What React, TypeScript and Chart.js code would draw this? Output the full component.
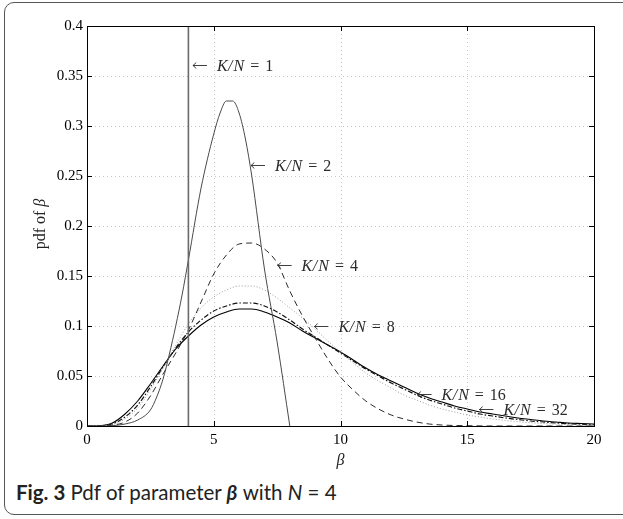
import React, { useEffect, useRef } from "react";
import { Chart, registerables } from "chart.js";
Chart.register(...registerables);

// ---- data ----
const betaGrid = [0, 0.5, 1, 1.5, 2, 2.5, 3, 3.5, 4, 4.5, 5, 5.5, 6, 6.5, 7, 7.5, 8, 8.5, 9, 9.5, 10, 10.5, 11, 11.5, 12, 12.5, 13, 13.5, 14, 14.5, 15, 15.5, 16, 16.5, 17, 17.5, 18, 18.5, 19, 19.5, 20];

const pdfKN32 = [0, 0.0003, 0.003, 0.012, 0.025, 0.042, 0.06, 0.077, 0.09, 0.101, 0.109, 0.114, 0.117, 0.117, 0.114, 0.109, 0.103, 0.095, 0.088, 0.081, 0.074, 0.066, 0.058, 0.051, 0.045, 0.039, 0.033, 0.028, 0.024, 0.02, 0.017, 0.014, 0.012, 0.01, 0.008, 0.0065, 0.005, 0.004, 0.003, 0.0025, 0.002];

const pdfKN16 = [0, 0.0002, 0.002, 0.009, 0.021, 0.039, 0.059, 0.078, 0.094, 0.106, 0.115, 0.12, 0.123, 0.123, 0.12, 0.114, 0.106, 0.097, 0.089, 0.081, 0.073, 0.065, 0.057, 0.05, 0.043, 0.037, 0.031, 0.026, 0.022, 0.018, 0.015, 0.012, 0.01, 0.008, 0.0065, 0.005, 0.004, 0.003, 0.0023, 0.0017, 0.0012];

const pdfKN8 = [0, 0.0001, 0.0015, 0.007, 0.018, 0.036, 0.058, 0.081, 0.102, 0.118, 0.129, 0.136, 0.14, 0.14, 0.136, 0.128, 0.118, 0.108, 0.097, 0.085, 0.074, 0.063, 0.053, 0.045, 0.038, 0.031, 0.026, 0.021, 0.017, 0.014, 0.011, 0.009, 0.007, 0.0055, 0.0043, 0.0033, 0.0025, 0.0019, 0.0014, 0.001, 0.0008];

const pdfKN4 = [0, 0, 0.0008, 0.004, 0.013, 0.03, 0.052, 0.073, 0.096, 0.124, 0.152, 0.171, 0.182, 0.183, 0.177, 0.163, 0.135, 0.11, 0.088, 0.067, 0.049, 0.036, 0.025, 0.017, 0.011, 0.007, 0.004, 0.002, 0.001, 0.0005, 0.0003, 0.0001, 0, 0, 0, 0, 0, 0, 0, 0, 0];

const betaKN2 = [0, 0.5, 1, 1.5, 2, 2.5, 2.75, 3, 3.25, 3.5, 3.75, 4, 4.5, 5, 5.25, 5.5, 5.75, 6, 6.25, 6.5, 7, 7.5, 8];
const pdfKN2 = [0, 0, 0.0003, 0.002, 0.006, 0.016, 0.029, 0.047, 0.072, 0.1, 0.131, 0.166, 0.238, 0.292, 0.313, 0.325, 0.325, 0.313, 0.287, 0.25, 0.157, 0.084, 0];

const betaKN1 = [4, 4];
const pdfKN1 = [0, 0.4];

const xTicks = [0, 5, 10, 15, 20];
const xTickLabels = ["0", "5", "10", "15", "20"];
const yTicks = [0, 0.05, 0.1, 0.15, 0.2, 0.25, 0.3, 0.35, 0.4];
const yTickLabels = ["0", "0.05", "0.1", "0.15", "0.2", "0.25", "0.3", "0.35", "0.4"];

const annotKN = ["1", "2", "4", "8", "16", "32"];
const annotBeta = [4.14, 6.43, 7.48, 8.93, 13.0, 15.44];
const annotPdf = [0.361, 0.261, 0.161, 0.1, 0.032, 0.017];

const SERIF = "'Liberation Serif', 'DejaVu Serif', serif";

function pts(xs: number[], ys: number[]) {
  return xs.map((x, i) => ({ x, y: ys[i] }));
}

const decorPlugin = {
  id: "decor",
  beforeDatasetsDraw(chart: any) {
    const { ctx, chartArea: a, scales } = chart;
    const xs = scales.x, ys = scales.y;
    ctx.save();
    ctx.strokeStyle = "#c4c4c4";
    ctx.lineWidth = 1;
    ctx.setLineDash([1, 3]);
    xTicks.slice(1, -1).forEach((v) => {
      const px = Math.round(xs.getPixelForValue(v)) + 0.5;
      ctx.beginPath();
      ctx.moveTo(px, a.top);
      ctx.lineTo(px, a.bottom);
      ctx.stroke();
    });
    yTicks.slice(1, -1).forEach((v) => {
      const py = Math.round(ys.getPixelForValue(v)) + 0.5;
      ctx.beginPath();
      ctx.moveTo(a.left, py);
      ctx.lineTo(a.right, py);
      ctx.stroke();
    });
    ctx.restore();
  },
  afterDatasetsDraw(chart: any) {
    const { ctx, chartArea: a, scales } = chart;
    const xs = scales.x, ys = scales.y;
    ctx.save();
    ctx.setLineDash([]);
    ctx.strokeStyle = "#000";
    ctx.lineWidth = 1;
    ctx.strokeRect(Math.round(a.left) + 0.5, Math.round(a.top) + 0.5, Math.round(a.right - a.left), Math.round(a.bottom - a.top));
    const tl = 5;
    xTicks.forEach((v) => {
      const px = Math.round(xs.getPixelForValue(v)) + 0.5;
      ctx.beginPath();
      ctx.moveTo(px, a.bottom);
      ctx.lineTo(px, a.bottom - tl);
      ctx.moveTo(px, a.top);
      ctx.lineTo(px, a.top + tl);
      ctx.stroke();
    });
    yTicks.forEach((v) => {
      const py = Math.round(ys.getPixelForValue(v)) + 0.5;
      ctx.beginPath();
      ctx.moveTo(a.left, py);
      ctx.lineTo(a.left + tl, py);
      ctx.moveTo(a.right, py);
      ctx.lineTo(a.right - tl, py);
      ctx.stroke();
    });

    // annotations
    ctx.fillStyle = "#2a2a2a";
    ctx.strokeStyle = "#2a2a2a";
    ctx.textBaseline = "middle";
    ctx.textAlign = "left";
    annotKN.forEach((lab, i) => {
      const px = xs.getPixelForValue(annotBeta[i]);
      const py = Math.round(ys.getPixelForValue(annotPdf[i])) + 0.5;
      // arrow
      ctx.lineWidth = 0.9;
      ctx.beginPath();
      ctx.moveTo(px + 1, py);
      ctx.lineTo(px + 15, py);
      ctx.moveTo(px + 1, py);
      ctx.quadraticCurveTo(px + 3, py - 1, px + 4, py - 3);
      ctx.moveTo(px + 1, py);
      ctx.quadraticCurveTo(px + 3, py + 1, px + 4, py + 3);
      ctx.stroke();
      let x = px + 25;
      const ty = py + 1;
      ctx.font = `italic 16px ${SERIF}`;
      ctx.fillText("K", x, ty);
      x += ctx.measureText("K").width + 0.5;
      ctx.fillText("/", x, ty);
      x += ctx.measureText("/").width + 1;
      ctx.fillText("N", x, ty);
      x += ctx.measureText("N").width + 6;
      ctx.font = `16px ${SERIF}`;
      ctx.fillText("=", x, ty);
      x += ctx.measureText("=").width + 6;
      ctx.fillText(lab, x, ty);
    });

    // axis titles
    ctx.fillStyle = "#222";
    ctx.textAlign = "center";
    ctx.font = `italic 16px ${SERIF}`;
    ctx.fillText("\u03b2", (a.left + a.right) / 2, 461);

    ctx.save();
    ctx.translate(41, 224);
    ctx.rotate(-Math.PI / 2);
    ctx.font = `16px ${SERIF}`;
    const t1 = "pdf of ";
    const w1 = ctx.measureText(t1).width;
    ctx.font = `italic 16px ${SERIF}`;
    const w2 = ctx.measureText("\u03b2").width;
    const start = -(w1 + w2) / 2;
    ctx.textAlign = "left";
    ctx.font = `16px ${SERIF}`;
    ctx.fillText(t1, start, 0);
    ctx.font = `italic 16px ${SERIF}`;
    ctx.fillText("\u03b2", start + w1, 0);
    ctx.restore();

    ctx.restore();
  },
};

export default function App() {
  const ref = useRef<HTMLCanvasElement>(null);
  useEffect(() => {
    const canvas = ref.current!;
    const chart = new Chart(canvas, {
      type: "line",
      data: {
        datasets: [
          { label: "K/N=1", data: pts(betaKN1, pdfKN1), borderColor: "#6a6a6a", borderWidth: 1.6 },
          { label: "K/N=2", data: pts(betaKN2, pdfKN2), borderColor: "#4a4a4a", borderWidth: 1, cubicInterpolationMode: "monotone" },
          { label: "K/N=4", data: pts(betaGrid, pdfKN4), borderColor: "#2a2a2a", borderWidth: 1, borderDash: [6, 4], cubicInterpolationMode: "monotone" },
          { label: "K/N=8", data: pts(betaGrid, pdfKN8), borderColor: "#9a9a9a", borderWidth: 1, borderDash: [1, 2], cubicInterpolationMode: "monotone" },
          { label: "K/N=16", data: pts(betaGrid, pdfKN16), borderColor: "#111", borderWidth: 1.2, borderDash: [5, 2, 1.5, 2], cubicInterpolationMode: "monotone" },
          { label: "K/N=32", data: pts(betaGrid, pdfKN32), borderColor: "#000", borderWidth: 1.1, cubicInterpolationMode: "monotone" },
        ] as any,
      },
      options: {
        animation: false,
        responsive: false,
        devicePixelRatio: 1,
        layout: { padding: { top: 26, right: 29, left: 0, bottom: 0 } },
        elements: { point: { radius: 0 }, line: { fill: false } },
        plugins: { legend: { display: false }, tooltip: { enabled: false }, title: { display: false } },
        scales: {
          x: {
            type: "linear",
            min: 0,
            max: 20,
            grid: { display: false, drawTicks: false },
            border: { display: false },
            afterBuildTicks: (s: any) => {
              s.ticks = xTicks.map((v) => ({ value: v }));
            },
            afterFit: (s: any) => {
              s.height = 49;
            },
            ticks: {
              padding: 5,
              color: "#000",
              font: { family: SERIF, size: 15 },
              maxRotation: 0,
              autoSkip: false,
              callback: (_v: any, i: number) => xTickLabels[i],
            },
          },
          y: {
            type: "linear",
            min: 0,
            max: 0.4,
            grid: { display: false, drawTicks: false },
            border: { display: false },
            afterBuildTicks: (s: any) => {
              s.ticks = yTicks.map((v) => ({ value: v }));
            },
            afterFit: (s: any) => {
              s.width = 87;
            },
            ticks: {
              padding: 4,
              color: "#000",
              font: { family: SERIF, size: 15 },
              autoSkip: false,
              callback: (_v: any, i: number) => yTickLabels[i],
            },
          },
        },
      } as any,
      plugins: [decorPlugin],
    });
    return () => chart.destroy();
  }, []);

  return (
    <div style={{ position: "fixed", left: 0, top: 0, width: 623, height: 519, overflow: "hidden", background: "#fff" }}>
      <div
        style={{
          position: "absolute",
          left: 4,
          top: 2,
          width: 700,
          height: 513,
          border: "1.5px solid #555",
          borderRadius: 10,
          boxSizing: "border-box",
        }}
      />
      <canvas ref={ref} width={623} height={475} style={{ position: "absolute", left: 0, top: 0, width: 623, height: 475 }} />
      <div
        style={{
          position: "absolute",
          left: 16,
          top: 479,
          fontFamily: "Lato, 'Noto Sans', sans-serif",
          fontSize: 20.5,
          color: "#222",
          whiteSpace: "nowrap",
          lineHeight: "26px",
        }}
      >
        <b>Fig. 3</b> Pdf of parameter <b><i>β</i></b> with <i>N</i> = 4
      </div>
    </div>
  );
}
